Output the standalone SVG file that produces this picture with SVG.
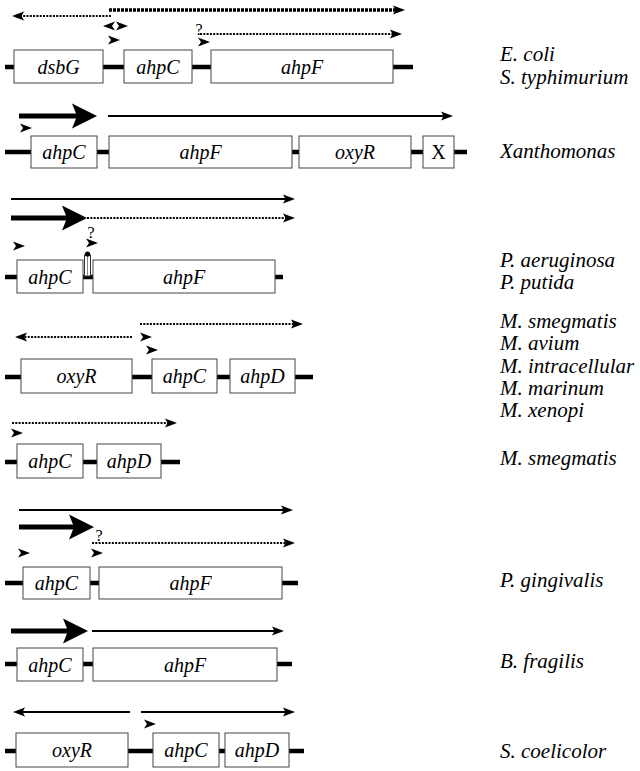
<svg xmlns="http://www.w3.org/2000/svg" xmlns:xlink="http://www.w3.org/1999/xlink" width="640" height="771" viewBox="0 0 640 771">
<style>
.bb{stroke:#000;stroke-width:4.5;fill:none}
.box{fill:#fff;stroke:#444;stroke-width:1}
.g{font-family:"Liberation Serif","Times New Roman",serif;font-style:italic;font-size:20px;text-anchor:middle;fill:#000}
.up{font-style:normal}
.lab{font-family:"Liberation Serif","Times New Roman",serif;font-style:italic;font-size:21px;fill:#000}
.q{font-family:"Liberation Serif","Times New Roman",serif;font-size:16px;text-anchor:middle;fill:#000}
.thin{stroke:#000;stroke-width:2;fill:none;marker-end:url(#ah)}
.dot{stroke:#000;stroke-width:2;fill:none;stroke-dasharray:2 1.3;marker-end:url(#ah)}
.dotk{stroke:#000;stroke-width:3.5;fill:none;stroke-dasharray:3 1;marker-end:url(#ah)}
.thick{stroke:#000;stroke-width:5;fill:none;marker-end:url(#big)}
</style>
<defs>
<marker id="ah" markerUnits="userSpaceOnUse" viewBox="-8 -6 16 12" refX="0" refY="0" markerWidth="16" markerHeight="12" orient="auto">
<path d="M6,0 L-6,-4.5 L-3.5,0 L-6,4.5 Z" fill="#000"/>
</marker>
<marker id="big" markerUnits="userSpaceOnUse" viewBox="-12 -14 30 28" refX="0" refY="0" markerWidth="30" markerHeight="28" orient="auto">
<path d="M15,0 L-10,-12.5 L-5,0 L-10,12.5 Z" fill="#000"/>
</marker>
<path id="prom" d="M0,0 L-12,-4.5 L-9,0 L-12,4.5 Z" fill="#000"/>
</defs>

<g id="backbones">
<line class="bb" x1="5" y1="67" x2="413" y2="67"/>
<line class="bb" x1="5" y1="152" x2="467" y2="152"/>
<line class="bb" x1="5" y1="277" x2="283" y2="277"/>
<line class="bb" x1="5" y1="377" x2="313" y2="377"/>
<line class="bb" x1="5" y1="462" x2="180" y2="462"/>
<line class="bb" x1="5" y1="583" x2="298" y2="583"/>
<line class="bb" x1="5" y1="664" x2="292" y2="664"/>
<line class="bb" x1="5" y1="751" x2="304" y2="751"/>
</g>

<g id="connectors">
<line class="dotk" x1="109" y1="10" x2="399" y2="10"/>
<line class="dot" x1="111" y1="16" x2="18" y2="16"/>
<line class="dot" x1="200" y1="34" x2="396" y2="34"/>
<line class="thick" x1="19" y1="116" x2="82" y2="116"/>
<line class="thin" x1="108" y1="116" x2="447" y2="116"/>
<line class="thin" x1="11" y1="199" x2="289" y2="199"/>
<line class="thick" x1="11" y1="218" x2="72" y2="218"/>
<line class="dot" x1="87" y1="218" x2="289" y2="218"/>
<line class="dot" x1="140" y1="324" x2="297" y2="324"/>
<line class="dot" x1="132" y1="337" x2="21" y2="337"/>
<line class="dot" x1="12" y1="423" x2="171" y2="423"/>
<line class="thin" x1="19" y1="510" x2="287" y2="510"/>
<line class="thick" x1="19" y1="527" x2="79" y2="527"/>
<line class="dot" x1="92" y1="543" x2="289" y2="543"/>
<line class="thick" x1="11" y1="631" x2="73" y2="631"/>
<line class="thin" x1="92" y1="631" x2="278" y2="631"/>
<line class="thin" x1="130" y1="712" x2="19" y2="712"/>
<line class="thin" x1="141" y1="712" x2="289" y2="712"/>
</g>

<g id="promoters">
<use xlink:href="#prom" transform="translate(103,26) scale(-1,1)"/>
<use xlink:href="#prom" transform="translate(128,26)"/>
<use xlink:href="#prom" transform="translate(120,40)"/>
<use xlink:href="#prom" transform="translate(210,42)"/>
<use xlink:href="#prom" transform="translate(32,128)"/>
<use xlink:href="#prom" transform="translate(25,246)"/>
<use xlink:href="#prom" transform="translate(98,243)"/>
<use xlink:href="#prom" transform="translate(152,337)"/>
<use xlink:href="#prom" transform="translate(158,350)"/>
<use xlink:href="#prom" transform="translate(23,433)"/>
<use xlink:href="#prom" transform="translate(30,553)"/>
<use xlink:href="#prom" transform="translate(103,553)"/>
<use xlink:href="#prom" transform="translate(156,724)"/>
<text class="q" x="199" y="35">?</text>
<text class="q" x="91" y="238">?</text>
<text class="q" x="99" y="541">?</text>
</g>

<g id="terminator">
<rect x="84.5" y="255" width="6" height="21" fill="#fff" stroke="#333" stroke-width="1"/>
<line x1="87.5" y1="256" x2="87.5" y2="276" stroke="#888" stroke-width="1"/>
<circle cx="87.5" cy="254" r="2.6" fill="#000"/>
</g>

<g id="r1-dsbG"><rect class="box" x="14" y="50" width="89" height="33"/><text class="g" x="58.5" y="73.5">dsbG</text></g>
<g id="r1-ahpC"><rect class="box" x="124" y="50" width="68" height="33"/><text class="g" x="158" y="73.5">ahpC</text></g>
<g id="r1-ahpF"><rect class="box" x="211" y="50" width="182" height="33"/><text class="g" x="302" y="73.5">ahpF</text></g>
<g id="r2-ahpC"><rect class="box" x="31" y="136" width="66" height="32"/><text class="g" x="64" y="159">ahpC</text></g>
<g id="r2-ahpF"><rect class="box" x="109" y="136" width="183" height="32"/><text class="g" x="200.5" y="159">ahpF</text></g>
<g id="r2-oxyR"><rect class="box" x="299" y="136" width="112" height="32"/><text class="g" x="355" y="159">oxyR</text></g>
<g id="r2-X"><rect class="box" x="423" y="136" width="31" height="32"/><text class="g up" x="438.5" y="159">X</text></g>
<g id="r3-ahpC"><rect class="box" x="17" y="260" width="66" height="33"/><text class="g" x="50" y="283.5">ahpC</text></g>
<g id="r3-ahpF"><rect class="box" x="93" y="260" width="182" height="33"/><text class="g" x="184" y="283.5">ahpF</text></g>
<g id="r4-oxyR"><rect class="box" x="21" y="359" width="111" height="34"/><text class="g" x="76.5" y="383">oxyR</text></g>
<g id="r4-ahpC"><rect class="box" x="152" y="359" width="65" height="34"/><text class="g" x="184.5" y="383">ahpC</text></g>
<g id="r4-ahpD"><rect class="box" x="230" y="359" width="65" height="34"/><text class="g" x="262.5" y="383">ahpD</text></g>
<g id="r5-ahpC"><rect class="box" x="17" y="444" width="66" height="34"/><text class="g" x="50" y="468">ahpC</text></g>
<g id="r5-ahpD"><rect class="box" x="97" y="444" width="64" height="34"/><text class="g" x="129" y="468">ahpD</text></g>
<g id="r6-ahpC"><rect class="box" x="23" y="567" width="67" height="32"/><text class="g" x="56.5" y="590">ahpC</text></g>
<g id="r6-ahpF"><rect class="box" x="99" y="567" width="183" height="32"/><text class="g" x="190.5" y="590">ahpF</text></g>
<g id="r7-ahpC"><rect class="box" x="17" y="648" width="66" height="33"/><text class="g" x="50" y="671.5">ahpC</text></g>
<g id="r7-ahpF"><rect class="box" x="93" y="648" width="184" height="33"/><text class="g" x="185" y="671.5">ahpF</text></g>
<g id="r8-oxyR"><rect class="box" x="16" y="733" width="112" height="34"/><text class="g" x="72" y="757">oxyR</text></g>
<g id="r8-ahpC"><rect class="box" x="153" y="733" width="66" height="34"/><text class="g" x="186" y="757">ahpC</text></g>
<g id="r8-ahpD"><rect class="box" x="225" y="733" width="64" height="34"/><text class="g" x="257" y="757">ahpD</text></g>

<g id="labels">
<text class="lab" x="500" y="61">E. coli</text>
<text class="lab" x="500" y="84">S. typhimurium</text>
<text class="lab" x="500" y="158">Xanthomonas</text>
<text class="lab" x="500" y="267">P. aeruginosa</text>
<text class="lab" x="500" y="289">P. putida</text>
<text class="lab" x="500" y="328">M. smegmatis</text>
<text class="lab" x="500" y="350">M. avium</text>
<text class="lab" x="500" y="373">M. intracellular</text>
<text class="lab" x="500" y="395">M. marinum</text>
<text class="lab" x="500" y="417">M. xenopi</text>
<text class="lab" x="500" y="465">M. smegmatis</text>
<text class="lab" x="500" y="587">P. gingivalis</text>
<text class="lab" x="500" y="668">B. fragilis</text>
<text class="lab" x="500" y="758">S. coelicolor</text>
</g>
</svg>
